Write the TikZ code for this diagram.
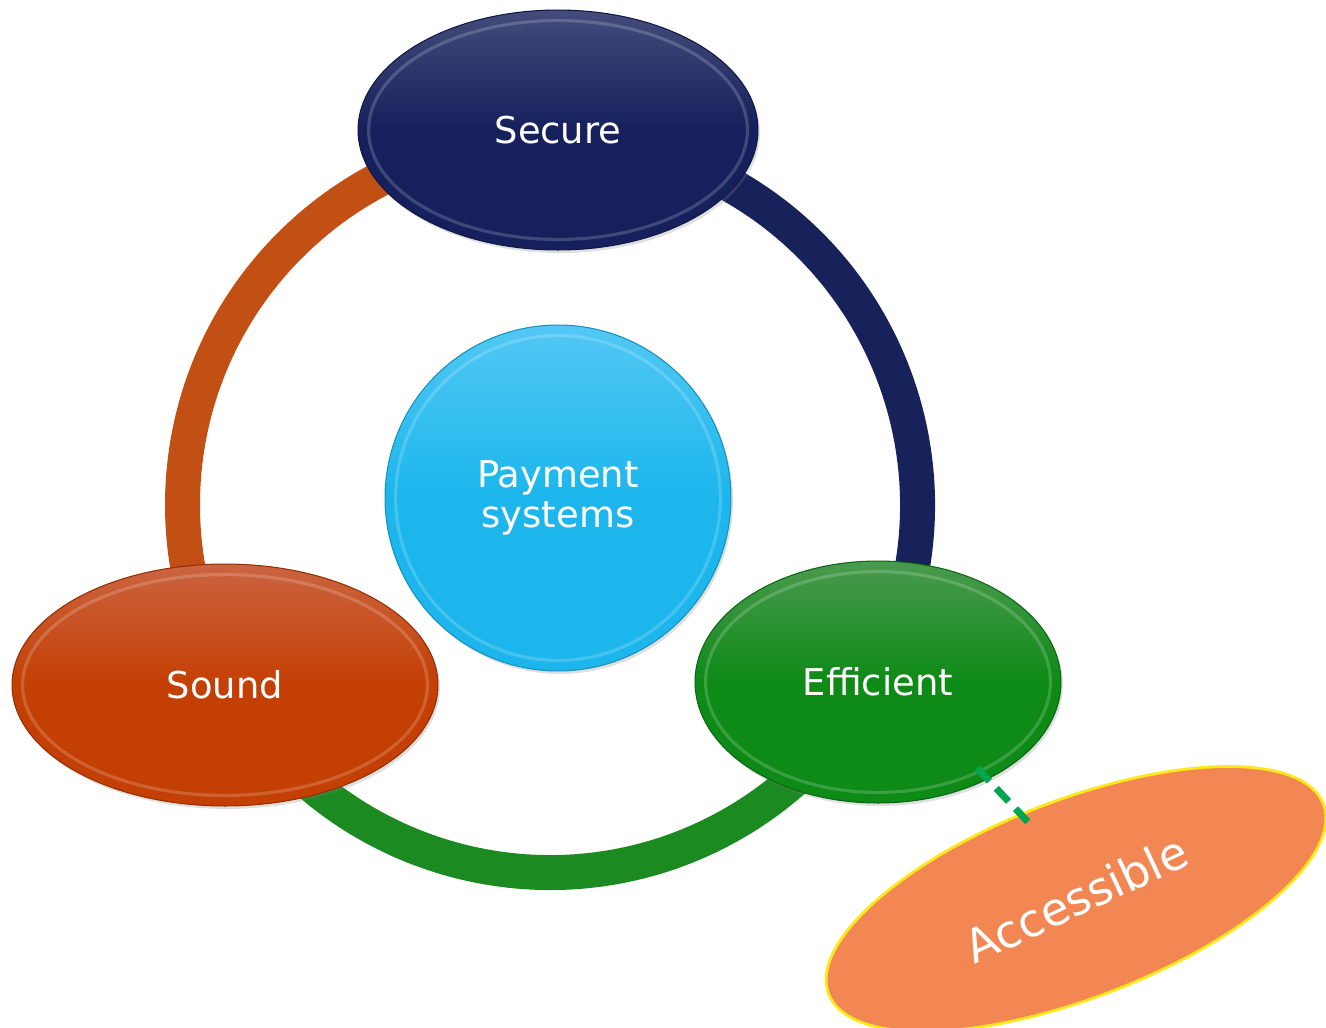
\documentclass[tikz,border=0pt]{standalone}
\usepackage{fontspec}
\setmainfont{DejaVu Sans}
\usetikzlibrary{shapes.geometric,shadows,calc}
\definecolor{secnavy}{HTML}{16205C}
\definecolor{secnavyhi}{HTML}{434C7C}
\definecolor{sndorange}{HTML}{C43F04}
\definecolor{sndorangehi}{HTML}{CB6440}
\definecolor{effgreen}{HTML}{0E8A17}
\definecolor{effgreenhi}{HTML}{4A9A4E}
\definecolor{paysky}{HTML}{1CB6EC}
\definecolor{payskyhi}{HTML}{52C8F4}
\definecolor{accorange}{HTML}{F28754}
\definecolor{accrim}{HTML}{FFE81A}
\definecolor{linkgreen}{HTML}{00A550}
\definecolor{ringorange}{HTML}{C24F13}
\definecolor{ringnavy}{HTML}{17215A}
\definecolor{ringgreen}{HTML}{1B8A20}

\begin{document}
\begin{tikzpicture}[x=0.02cm, y=0.02cm,
  every node/.style={font=\fontsize{21}{23}\selectfont, text=white},
  ring/.style={line width=0.7cm},
  bevel/.style={path picture={
    \draw[white, opacity=.18, line width=1.8pt]
      let \p1=(path picture bounding box.north east), \p2=(path picture bounding box.center)
      in (\p2) ellipse [x radius=\x1-\x2-6pt, y radius=\y1-\y2-6pt];}},
  pillar/.style n args={2}{ellipse, inner sep=0pt, draw=#1!75!black, line width=0.6pt,
    top color=#2, bottom color=#1, middle color=#1, bevel,
    drop shadow={opacity=.25, shadow xshift=.4mm, shadow yshift=-.6mm}},
  link/.style={draw=linkgreen, line width=0.14cm, dash pattern=on 0.36cm off 0.2cm}]
\useasboundingbox (0,0) rectangle (1326,-1028);

\coordinate (hub) at (550,-505);
\draw[ring, ringorange] (hub) ++(89:367.5) arc[start angle=89, end angle=209, radius=367.5];
\draw[ring, ringgreen] (hub) ++(209:367.5) arc[start angle=209, end angle=332, radius=367.5];
\draw[ring, ringnavy] (hub) ++(-28:367.5) arc[start angle=-28, end angle=89, radius=367.5];

\node[pillar={secnavy}{secnavyhi}, minimum width=8cm, minimum height=4.8cm] (secure) at (558,-130) {Secure};
\node[pillar={paysky}{payskyhi}, circle, draw=paysky!80!black, minimum size=6.92cm, align=center] (pay) at (558,-498) {Payment\\systems};
\node[pillar={sndorange}{sndorangehi}, minimum width=8.52cm, minimum height=4.84cm] (sound) at (225,-685) {Sound};
\node[pillar={effgreen}{effgreenhi}, minimum width=7.32cm, minimum height=4.84cm] (eff) at (878,-682) {Efficient};

\node[ellipse, inner sep=0pt, fill=accorange, draw=accrim, line width=1.6pt,
  minimum width=10.6cm, minimum height=3.96cm, rotate=21,
  font=\fontsize{26}{28}\selectfont] (acc) at (1076,-899) {\rotatebox{4}{Accessible}};

\coordinate (effLink) at (977,-768);
\coordinate (accLink) at (1030,-824);
\draw[link] (effLink) -- (accLink);
\end{tikzpicture}
\end{document}
